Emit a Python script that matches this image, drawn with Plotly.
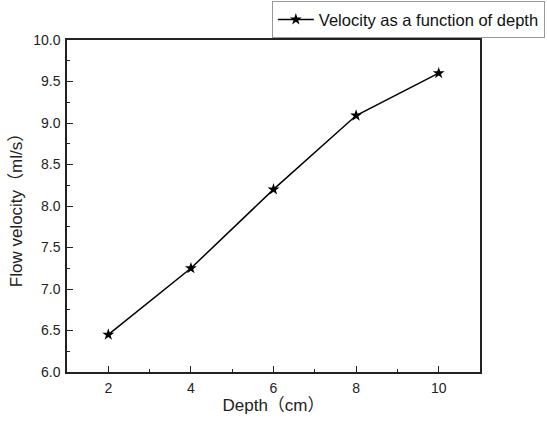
import plotly.graph_objects as go

depth_cm = [2, 4, 6, 8, 10]
velocity = [6.45, 7.25, 8.2, 9.09, 9.6]
series_name = "Velocity as a function of depth"
x_title = "Depth（cm）"
y_title = "Flow velocity（ml/s）"

font_family = "Liberation Sans, Arial, Noto Sans CJK SC, sans-serif"

fig = go.Figure()
fig.add_trace(go.Scatter(
    x=depth_cm, y=velocity, mode="lines+markers", name=series_name,
    line=dict(color="black", width=1.5),
    marker=dict(symbol="star", size=9, color="black"),
))

axis_common = dict(
    showline=True, linecolor="#222", linewidth=1.5, mirror=True,
    ticks="inside", ticklen=6, tickwidth=1.2, tickcolor="#222",
    showgrid=False, zeroline=False, automargin=False,
    tickfont=dict(size=14, color="#222", family=font_family),
)

fig.update_layout(
    width=547, height=423,
    margin=dict(l=67, r=67, t=40, b=51, autoexpand=False),
    paper_bgcolor="white", plot_bgcolor="white",
    font=dict(family=font_family, color="#222"),
    showlegend=True,
    legend=dict(
        x=0.496, y=1.117, xanchor="left", yanchor="top",
        bordercolor="#999", borderwidth=1,
        font=dict(size=16.5, color="#111", family=font_family),
        bgcolor="white", itemwidth=36,
    ),
    xaxis=dict(
        range=[1, 11], tickvals=[2, 4, 6, 8, 10],
        minor=dict(tickvals=[3, 5, 7, 9], ticks="inside", ticklen=3, tickcolor="#222"),
        title=dict(text=x_title, font=dict(size=17), standoff=4),
        ticklabelstandoff=2,
        **axis_common,
    ),
    yaxis=dict(
        range=[6.0, 10.0], dtick=0.5, tickformat=".1f",
        minor=dict(dtick=0.25, ticks="inside", ticklen=3, tickcolor="#222"),
        title=dict(text=y_title, font=dict(size=17), standoff=6),
        ticklabelstandoff=2,
        **axis_common,
    ),
)

fig.write_html(
    "out.html",
    config={"displayModeBar": False},
    post_script="document.body.style.margin='0';",
)
